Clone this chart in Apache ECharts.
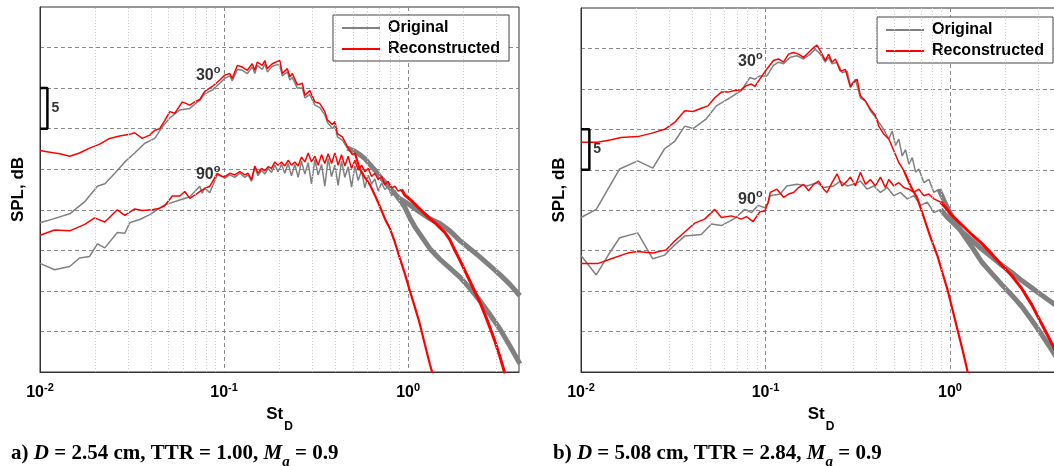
<!DOCTYPE html>
<html>
<head>
<meta charset="utf-8">
<script src="https://cdn.jsdelivr.net/npm/echarts@6/dist/echarts.min.js"></script>
<style>html,body{margin:0;padding:0;background:#fff;}#c{width:1054px;height:466px;}</style>
</head>
<body>
<div id="c"></div>
<script>
// ---------------- data (St_D, relative SPL in dB) ----------------
const minorGrid = [0.02,0.03,0.04,0.05,0.06,0.07,0.08,0.09,0.2,0.3,0.4,0.5,0.6,0.7,0.8,0.9,2,3];
const legendNames = ['Original', 'Reconstructed'];
const captionA = ['a) ', 'D', ' = 2.54 cm, TTR = 1.00, ', 'M', 'a', ' = 0.9'];
const captionB = ['b) ', 'D', ' = 5.08 cm, TTR = 2.84, ', 'M', 'a', ' = 0.9'];
const angleNames = ['30', '90'];
const scaleBarA = [30, 35];
const scaleBarB = [25, 30];
const scaleBarText = '5';

// panel a
const a30Orig = [[0.0100,18.4],[0.0117,18.85],[0.0145,19.5],[0.0175,21.0],[0.0205,22.9],[0.0225,23.2],[0.0255,24.5],[0.0289,25.9],[0.0327,27.0],[0.0371,28.2],[0.0420,28.8],[0.0461,30.2],[0.0507,31.3],[0.0574,32.3],[0.0651,32.5],[0.0738,33.5],[0.0785,34.3],[0.0863,34.75],[0.0948,35.6],[0.1009,36.2],[0.1074,36.5],[0.1108,35.9],[0.1180,37.3],[0.1256,37.2],[0.1337,36.8],[0.1423,37.6],[0.1469,36.8],[0.1515,37.8],[0.1613,37.3],[0.1664,38.0],[0.1717,37.0],[0.1828,37.7],[0.1946,37.9],[0.2008,37.8],[0.2072,36.5],[0.2206,37.0],[0.2276,36.0],[0.2348,36.3],[0.2500,35.0],[0.2661,35.0],[0.2746,33.8],[0.2923,34.2],[0.3112,32.9],[0.3313,32.6],[0.3526,31.7],[0.3639,30.8],[0.3874,30.0],[0.3997,30.4],[0.4124,29.0],[0.4390,28.6],[0.4673,27.6]];
const a30OrigTail = [[0.4673,27.6],[0.5133,27.2],[0.5465,26.8],[0.5818,26.3],[0.6193,25.6],[0.6593,24.9],[0.7019,24.1],[0.7472,23.4],[0.7954,22.7],[0.8468,22.0],[0.9015,21.2],[0.9597,20.3],[1.0215,19.0],[1.0875,17.9],[1.1577,17.0],[1.3120,15.2],[1.4869,13.9],[1.6851,12.8],[1.9099,11.7],[2.1646,10.3],[2.4528,8.8],[2.7798,7.1],[3.1508,5.3],[3.5709,3.2],[4.047,1.0]];
const a30Rec = [[0.0100,27.3],[0.0113,27.1],[0.0128,26.9],[0.0145,26.6],[0.0164,27.0],[0.0186,27.6],[0.0211,28.1],[0.0239,28.8],[0.0271,29.1],[0.0307,29.3],[0.0327,29.5],[0.0359,28.8],[0.0395,29.2],[0.0420,29.8],[0.0447,30.0],[0.0476,31.0],[0.0507,32.1],[0.0540,31.9],[0.0593,33.3],[0.0651,32.9],[0.0693,33.3],[0.0738,33.6],[0.0785,34.6],[0.0863,35.2],[0.0948,36.0],[0.1009,36.6],[0.1074,36.8],[0.1108,36.2],[0.1180,37.8],[0.1256,37.6],[0.1337,37.2],[0.1423,38.0],[0.1469,37.2],[0.1515,38.2],[0.1613,37.8],[0.1664,38.4],[0.1717,37.4],[0.1828,38.0],[0.1946,38.3],[0.2008,38.4],[0.2072,36.8],[0.2206,37.4],[0.2276,36.4],[0.2348,36.8],[0.2500,35.4],[0.2661,35.6],[0.2746,34.1],[0.2923,34.7],[0.3112,33.3],[0.3313,33.1],[0.3526,32.1],[0.3639,31.1],[0.3874,30.5],[0.3997,30.9],[0.4124,29.4],[0.4390,29.0],[0.4673,27.8],[0.4975,26.8],[0.5133,27.0]];
const a30RecTail = [[0.5133,27.0],[0.5465,25.0],[0.5818,24.0],[0.6193,23.1],[0.6593,21.8],[0.7019,20.4],[0.7472,18.9],[0.7954,17.7],[0.8468,16.0],[0.9015,14.0],[0.9597,12.1],[1.0215,10.0],[1.0875,8.0],[1.1577,5.9],[1.2325,3.4],[1.3120,0.95],[1.3968,-1.2]];
const a90Orig = [[0.0100,13.4],[0.0120,12.6],[0.0145,13.0],[0.0164,14.05],[0.0186,14.25],[0.0205,15.8],[0.0225,15.3],[0.0263,17.2],[0.0289,17.1],[0.0307,18.4],[0.0348,18.8],[0.0395,19.4],[0.0447,20.2],[0.0476,20.6],[0.0574,21.2],[0.0651,21.6],[0.0738,22.9],[0.0761,22.05],[0.0785,22.7],[0.0836,22.1],[0.0918,24.3],[0.0978,24.1],[0.1009,23.9],[0.1074,24.3],[0.1143,24.0],[0.1217,24.5],[0.1296,24.0],[0.1351,24.3],[0.1409,23.5],[0.1469,25.2],[0.1531,24.2],[0.1597,24.9],[0.1664,24.4],[0.1735,25.1],[0.1810,24.6],[0.1886,25.5],[0.1966,24.7],[0.2051,25.6],[0.2138,24.5],[0.2228,25.7],[0.2324,24.2],[0.2423,25.6],[0.2525,24.0],[0.2634,26.0],[0.2746,24.4],[0.2862,25.8],[0.2985,23.2],[0.3112,26.2],[0.3243,24.3],[0.3384,25.6],[0.3526,22.9],[0.3676,26.3],[0.3835,24.1],[0.3997,25.5],[0.4165,23.0],[0.4346,26.0],[0.4529,24.0],[0.4721,25.3],[0.4925,22.8],[0.5133,25.4],[0.5350,23.6],[0.5582,24.8],[0.5818,22.7],[0.6064,24.3],[0.6326,23.2],[0.6593,23.8],[0.6872,22.3],[0.7169,23.3],[0.7472,22.5],[0.7788,22.9],[0.8125,21.7],[0.8468,22.4],[0.8826,21.5]];
const a90OrigTail = [[0.8826,21.5],[0.9015,21.4],[1.0215,20.6],[1.1577,19.7],[1.3120,18.9],[1.4869,18.3],[1.6851,17.4],[1.9099,16.2],[2.1646,15.2],[2.4528,14.2],[2.7798,13.1],[3.1508,12.0],[3.5709,10.8],[4.047,9.4]];
const a90Rec = [[0.0100,16.85],[0.0120,17.5],[0.0145,17.4],[0.0175,18.2],[0.0198,19.0],[0.0225,18.5],[0.0263,20.0],[0.0289,19.3],[0.0327,20.1],[0.0359,19.9],[0.0407,20.0],[0.0447,20.2],[0.0476,20.5],[0.0523,21.7],[0.0574,21.7],[0.0612,22.25],[0.0651,21.4],[0.0693,21.8],[0.0761,22.45],[0.0836,22.9],[0.0918,24.5],[0.0978,24.1],[0.1009,24.1],[0.1074,24.5],[0.1143,24.3],[0.1217,24.7],[0.1296,24.3],[0.1351,24.5],[0.1409,23.7],[0.1469,25.4],[0.1531,24.5],[0.1597,25.1],[0.1664,24.8],[0.1735,25.3],[0.1810,25.1],[0.1886,25.9],[0.1966,25.5],[0.2051,25.9],[0.2138,25.4],[0.2228,26.1],[0.2324,25.5],[0.2423,25.9],[0.2525,25.4],[0.2634,26.5],[0.2746,25.9],[0.2862,27.0],[0.2985,25.9],[0.3112,26.6],[0.3243,25.5],[0.3384,26.8],[0.3526,25.7],[0.3676,26.9],[0.3835,25.7],[0.3997,27.0],[0.4165,25.5],[0.4346,26.8],[0.4529,25.4],[0.4721,26.6],[0.4925,25.1],[0.5133,26.1],[0.5350,24.9],[0.5582,25.5],[0.5818,24.7],[0.6064,25.1],[0.6326,24.1],[0.6593,24.5],[0.6872,23.7],[0.7169,24.1],[0.7472,23.1],[0.7788,23.5],[0.8125,22.7],[0.8468,22.9],[0.8826,22.3],[0.9208,22.5]];
const a90RecTail = [[0.9208,22.5],[0.9597,21.8],[1.0215,21.3],[1.0875,20.7],[1.1577,20.1],[1.2325,19.5],[1.3120,18.9],[1.3968,18.4],[1.4869,17.8],[1.5830,17.2],[1.6851,16.3],[1.7939,15.0],[1.9099,13.8],[2.0331,12.5],[2.1646,11.2],[2.3042,9.9],[2.4528,8.6],[2.6114,7.1],[2.7798,5.5],[2.9596,3.8],[3.1508,1.9],[3.3541,-0.2]];

// panel b
const b30Orig = [[0.0100,19.1],[0.0121,20.1],[0.0140,22.6],[0.0162,25.1],[0.0203,26.1],[0.0245,25.2],[0.0284,27.6],[0.0322,28.5],[0.0365,30.4],[0.0405,30.1],[0.0478,31.3],[0.0542,32.9],[0.0641,33.9],[0.0740,34.8],[0.0823,36.4],[0.0876,36.2],[0.0932,36.6],[0.1018,36.6],[0.1105,37.9],[0.1177,38.3],[0.1253,38.1],[0.1362,38.9],[0.1481,39.1],[0.1609,38.7],[0.1750,39.3],[0.1863,39.9],[0.1983,39.3],[0.2111,38.3],[0.2200,38.9],[0.2296,38.1],[0.2444,38.3],[0.2602,37.0],[0.2770,37.2],[0.2886,35.4],[0.3073,36.2],[0.3271,33.9],[0.3482,33.5],[0.3707,32.3],[0.3947,31.5],[0.4113,30.9],[0.4379,30.0],[0.4662,28.8],[0.4862,29.8],[0.5069,28.0],[0.5283,28.8],[0.5513,26.7],[0.5745,27.5],[0.5987,25.7],[0.6248,26.5],[0.6511,24.7],[0.6786,25.1],[0.7224,23.4],[0.7690,23.8],[0.8187,22.2],[0.8716,22.6]];
const b30OrigTail = [[0.8716,22.6],[0.9286,21.2],[1.0215,19.3],[1.1577,17.3],[1.3120,15.5],[1.4869,13.6],[1.6851,12.2],[1.9099,10.8],[2.1646,9.5],[2.4528,8.1],[2.7798,6.4],[3.1508,4.6],[3.5709,2.7],[4.047,0.7]];
const b30Rec = [[0.0100,28.4],[0.0123,28.4],[0.0146,28.7],[0.0165,29.0],[0.0203,29.1],[0.0240,29.5],[0.0284,30.0],[0.0322,30.85],[0.0365,32.3],[0.0405,32.2],[0.0449,32.6],[0.0488,32.9],[0.0531,33.9],[0.0577,34.6],[0.0627,34.6],[0.0682,34.8],[0.0740,34.9],[0.0788,35.4],[0.0839,35.6],[0.0876,35.3],[0.0932,36.2],[0.1013,37.4],[0.1105,38.5],[0.1177,38.7],[0.1253,38.3],[0.1334,39.3],[0.1420,39.5],[0.1511,39.3],[0.1609,38.9],[0.1713,39.5],[0.1824,40.1],[0.1903,40.4],[0.1983,39.7],[0.2111,38.5],[0.2200,39.3],[0.2296,38.3],[0.2393,38.7],[0.2547,37.2],[0.2712,37.4],[0.2886,35.2],[0.3008,35.8],[0.3139,36.2],[0.3271,34.15],[0.3482,33.5],[0.3707,32.5],[0.3947,31.7],[0.4113,30.4],[0.4379,29.4],[0.4662,28.8],[0.4963,27.35],[0.5283,25.9],[0.5624,24.9]];
const b30RecTail = [[0.5624,24.9],[0.6116,23.0],[0.6652,21.5],[0.7224,19.1],[0.7856,16.6],[0.8545,14.4],[0.9095,12.3],[0.9682,10.25],[1.0306,7.8],[1.0971,5.3],[1.1680,2.8],[1.2435,0.15],[1.3120,-2.0]];
const b90Orig = [[0.0100,14.4],[0.0121,12.0],[0.0140,14.4],[0.0162,16.6],[0.0203,17.2],[0.0245,14.0],[0.0284,14.45],[0.0322,15.7],[0.0365,16.8],[0.0449,17.0],[0.0509,18.3],[0.0577,18.1],[0.0682,19.0],[0.0773,20.1],[0.0839,19.7],[0.0913,20.6],[0.0993,20.3],[0.1034,20.95],[0.1061,21.8],[0.1202,22.0],[0.1305,23.0],[0.1481,23.2],[0.1678,23.0],[0.1903,23.4],[0.2067,22.8],[0.2346,23.0],[0.2547,23.6],[0.2770,23.0],[0.3008,23.2],[0.3271,23.6],[0.3559,22.6],[0.3864,23.0],[0.4201,22.2],[0.4570,22.8],[0.4963,21.8],[0.5398,22.2],[0.5869,21.4],[0.6375,21.8],[0.6932,20.6],[0.7538,21.0],[0.8187,19.7],[0.8902,20.1]];
const b90OrigTail = [[0.8902,20.1],[0.9682,19.1],[1.0215,18.6],[1.1577,17.4],[1.3120,16.3],[1.4869,15.2],[1.6851,14.2],[1.9099,13.2],[2.1646,12.3],[2.4528,11.3],[2.7798,10.4],[3.1508,9.5],[3.5709,8.6],[4.047,7.7]];
const b90Rec = [[0.0100,13.4],[0.0123,13.4],[0.0146,14.0],[0.0179,14.7],[0.0203,14.9],[0.0245,14.7],[0.0290,15.1],[0.0322,16.2],[0.0365,17.3],[0.0414,18.4],[0.0468,18.9],[0.0531,20.1],[0.0577,19.1],[0.0653,19.3],[0.0740,18.9],[0.0788,19.2],[0.0857,18.6],[0.0932,19.8],[0.0993,19.9],[0.1034,21.0],[0.1061,22.2],[0.1153,22.6],[0.1253,21.6],[0.1334,22.0],[0.1420,22.2],[0.1511,22.8],[0.1609,23.2],[0.1713,22.4],[0.1824,23.2],[0.1942,23.6],[0.2067,22.6],[0.2156,22.2],[0.2296,23.4],[0.2444,24.5],[0.2602,23.0],[0.2770,23.6],[0.2886,24.1],[0.3073,23.0],[0.3271,24.7],[0.3482,23.2],[0.3707,23.8],[0.3947,23.0],[0.4201,24.1],[0.4473,22.8],[0.4662,23.8],[0.4963,23.0],[0.5283,23.4],[0.5624,22.8],[0.5987,22.6],[0.6375,22.2],[0.6786,22.6],[0.7224,21.8],[0.7690,22.0],[0.8187,21.4],[0.8902,21.0]];
const b90RecTail = [[0.8902,21.0],[0.9597,20.2],[1.0215,19.4],[1.1577,18.2],[1.3120,17.0],[1.4869,15.9],[1.6851,14.6],[1.9099,13.2],[2.1646,11.9],[2.4528,10.3],[2.7798,8.3],[3.1508,5.9],[3.5709,3.5],[4.047,1.0]];

// ---------------- styling / layout ----------------
const SANS = 'Liberation Sans, Arial, sans-serif';
const SERIF = 'Liberation Serif, Times New Roman, serif';
const GRAY = '#808080', RED = '#ff0000';
const X_MIN = 0.01, X_MAX = 4, Y_MIN = 0, Y_MAX = 45, Y_STEP = 5;
const panels = [
  {grid:{left:40, top:7, width:479, height:365}, legend:{left:333, top:15}, caption:{left:11, top:443, parts:captionA},
   orig:[a30Orig, a90Orig], origTail:[a30OrigTail, a90OrigTail], rec:[a30Rec, a90Rec], recTail:[a30RecTail, a90RecTail],
   angleAt:[[0.0955, 36.75],[0.0955, 24.6]], bar:scaleBarA, barX:0.01097},
  {grid:{left:581, top:8, width:480, height:364}, legend:{left:877, top:17}, caption:{left:553, top:443, parts:captionB},
   orig:[b30Orig, b90Orig], origTail:[b30OrigTail, b90OrigTail], rec:[b30Rec, b90Rec], recTail:[b30RecTail, b90RecTail],
   angleAt:[[0.0965, 38.6],[0.0965, 21.6]], bar:scaleBarB, barX:0.0111}
];

const option = {animation:false, backgroundColor:'#fff', grid:[], xAxis:[], yAxis:[], series:[], legend:[], title:[]};

panels.forEach((p, i) => {
  option.grid.push(Object.assign({show:true, borderColor:'#333', borderWidth:1, backgroundColor:'transparent', containLabel:false, outerBoundsMode:'none'}, p.grid));
  option.xAxis.push({
    type:'log', logBase:10, gridIndex:i, min:X_MIN, max:X_MAX,
    axisLine:{show:true, lineStyle:{color:'#333', width:1}}, axisTick:{show:false},
    splitLine:{show:true, showMinLine:false, showMaxLine:false, lineStyle:{color:'#8a8a8a', type:[4,3], width:1}},
    axisLabel:{margin:10, formatter:(v)=>{const e=Math.log10(v), r=Math.round(e); return Math.abs(e-r)>1e-6 ? '' : '{b|10}{s|'+r+'}';},
      rich:{b:{fontSize:16, fontWeight:'bold', fontFamily:SANS, color:'#000', lineHeight:18, padding:[3,0,0,0], verticalAlign:'top'},
            s:{fontSize:11, fontWeight:'bold', fontFamily:SANS, color:'#000', lineHeight:11, verticalAlign:'top'}}},
    name:'{m|St}{s|D}', nameLocation:'middle', nameGap:30,
    nameTextStyle:{rich:{m:{fontSize:17, fontWeight:'bold', fontFamily:SANS, color:'#000', lineHeight:20, verticalAlign:'top'},
                         s:{fontSize:12, fontWeight:'bold', fontFamily:SANS, color:'#000', lineHeight:12, padding:[15,0,0,1], verticalAlign:'top'}}}
  });
  option.yAxis.push({
    type:'value', gridIndex:i, min:Y_MIN, max:Y_MAX, interval:Y_STEP,
    axisLine:{show:true, lineStyle:{color:'#333', width:1}}, axisTick:{show:false}, axisLabel:{show:false},
    splitLine:{show:true, showMinLine:false, showMaxLine:false, lineStyle:{color:'#8a8a8a', type:[4,3], width:1}},
    name:'SPL, dB', nameLocation:'middle', nameRotate:90, nameGap:13,
    nameTextStyle:{fontSize:17, fontWeight:'bold', fontFamily:SANS, color:'#000'}
  });
  // minor (2..9) log grid lines
  option.series.push({type:'line', xAxisIndex:i, yAxisIndex:i, data:[], z:1, silent:true,
    markLine:{silent:true, symbol:['none','none'], label:{show:false}, animation:false,
      lineStyle:{color:'#cccccc', type:[1,2], width:1}, emphasis:{disabled:true},
      data:minorGrid.map(v=>({xAxis:v}))}});
  const mk = (name, data, color, width, z) => ({type:'line', name, data, xAxisIndex:i, yAxisIndex:i, symbol:'none', showSymbol:false,
    lineStyle:{color, width}, itemStyle:{color}, z, silent:true, clip:true, emphasis:{disabled:true}});
  p.orig.forEach(d => option.series.push(mk(legendNames[0], d, GRAY, 1.5, 3)));
  p.origTail.forEach(d => option.series.push(mk(legendNames[0], d, GRAY, 5, 3)));
  p.rec.forEach(d => option.series.push(mk(legendNames[1], d, RED, 1.5, 4)));
  option.series.push(mk(legendNames[1], p.recTail[0], RED, 2.2, 4));
  option.series.push(mk(legendNames[1], p.recTail[1], RED, 3, 4));
  // scale bar (5 dB)
  option.series.push({type:'line', xAxisIndex:i, yAxisIndex:i, symbol:'none', silent:true, z:5,
    data:[[X_MIN, p.bar[1]],[p.barX, p.bar[1]],[p.barX, p.bar[0]],[X_MIN, p.bar[0]]],
    lineStyle:{color:'#000', width:2.5}});
  option.series.push({type:'scatter', xAxisIndex:i, yAxisIndex:i, symbolSize:0, silent:true, z:5,
    data:[[p.barX, (p.bar[0]+p.bar[1])/2]],
    label:{show:true, position:'right', distance:4, formatter:scaleBarText, fontSize:14, fontWeight:'bold', fontFamily:SANS, color:'#000'}});
  // angle labels
  option.series.push({type:'scatter', xAxisIndex:i, yAxisIndex:i, symbolSize:0, silent:true, z:5,
    data:p.angleAt.map((c, k) => ({value:c, name:angleNames[k]})),
    label:{show:true, position:'left', distance:0, formatter:(q)=>'{n|'+q.name+'}{o|o}',
      rich:{n:{fontSize:16, fontWeight:'bold', fontFamily:SANS, color:'#000', lineHeight:18, padding:[3,0,0,0], verticalAlign:'top'},
            o:{fontSize:11, fontWeight:'bold', fontFamily:SANS, color:'#000', lineHeight:12, verticalAlign:'top'}}}});
  option.legend.push({orient:'vertical', left:p.legend.left, top:p.legend.top, data:legendNames, icon:'rect', itemWidth:38, itemHeight:2,
    itemGap:5, padding:[5,9,4,9], borderColor:'#444', borderWidth:1, backgroundColor:'#fff', selectedMode:false,
    textStyle:{fontSize:16, fontWeight:'bold', fontFamily:SANS, color:'#000', padding:[0,0,0,3]}});
  const c = p.caption.parts;
  option.title.push({left:p.caption.left, top:p.caption.top, padding:0,
    text:'{n|'+c[0]+'}{i|'+c[1]+'}{n|'+c[2]+'}{i|'+c[3]+'}{s|'+c[4]+'}{n|'+c[5]+'}',
    textStyle:{rich:{
      n:{fontSize:21, fontWeight:'bold', fontFamily:SERIF, color:'#000', lineHeight:24, verticalAlign:'top'},
      i:{fontSize:21, fontWeight:'bold', fontStyle:'italic', fontFamily:SERIF, color:'#000', lineHeight:24, verticalAlign:'top'},
      s:{fontSize:15, fontWeight:'bold', fontStyle:'italic', fontFamily:SERIF, color:'#000', lineHeight:15, padding:[12,0,0,0], verticalAlign:'top'}}}});
});

const chart = echarts.init(document.getElementById('c'), null, {renderer:'canvas'});
chart.setOption(option);
</script>
</body>
</html>
